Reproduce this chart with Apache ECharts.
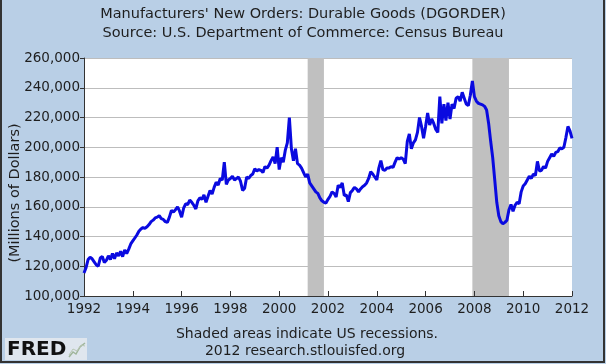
<!DOCTYPE html>
<html><head><meta charset="utf-8">
<script src="https://cdn.jsdelivr.net/npm/echarts/dist/echarts.min.js"></script>
<style>html,body{margin:0;padding:0;background:#b9cfe6}#c{width:606px;height:364px}</style>
</head><body><div id="c"></div>
<script>
// Monthly data, Jan 1992 .. Jan 2012 (millions of dollars)
const orders1990s = [
  115500,119000,124500,126000,125000,123000,121000,120000,125500,126500,122500,124000, // 1992
  127000,124500,128500,125000,129000,127000,130000,126500,131000,128500,131500,135000, // 1993
  137000,139000,141000,143500,145000,146000,145500,146500,148000,150000,151000,152500, // 1994
  153000,154000,152000,151500,150000,149500,153000,157500,156500,158000,160000,157000, // 1995
  153000,159000,162000,161500,164500,163000,161000,158500,164000,166000,165000,168000, // 1996
  163000,167000,171000,168500,173000,176500,174500,179000,178000,190000,175000,178000, // 1997
  179000,180500,178000,179000,180000,177000,171000,172500,180000,179000,181000,182000, // 1998
  185500,184000,185000,184500,183000,187000,186000,188000,191000,193500,189000,200000  // 1999
];
const orders2000s = [
  185000,193000,190000,198000,203000,220000,199000,191000,199000,189000,188000,186000, // 2000
  183000,180000,182000,176000,174000,172000,170000,169000,166000,164000,163000,162500, // 2001
  165000,167000,170000,169000,166500,174500,173000,176000,167500,168000,163500,169500, // 2002
  171000,173000,172000,170000,172000,173500,174500,176000,179000,183500,182000,180000, // 2003
  178000,186000,191000,185000,184500,186000,186000,187000,186500,190000,193000,192000, // 2004
  193000,192000,189000,204000,209000,199000,203000,205000,210000,220000,214000,206000, // 2005
  214000,223000,215000,219000,216000,212000,210000,234000,216000,229000,218000,230000, // 2006
  219000,229000,226000,233000,234000,231000,237000,233000,229000,228000,235000,244500, // 2007
  234000,231000,229500,229000,228500,227500,225000,216000,204000,193000,178000,163000, // 2008
  154000,150000,148500,149500,151000,158000,161500,157000,161000,163000,162000,170000  // 2009
];
const orders2010s = [
  174000,175500,178000,180500,179000,182000,181000,190500,184000,184500,187000,186000, // 2010
  190500,193000,195500,194000,196500,197000,199500,199000,200000,206500,214000,211000, // 2011
  206000                                                                                // 2012 Jan
];
const orders = orders1990s.concat(orders2000s, orders2010s);

const firstYear = 1992;
const months = [];
for (let i = 0; i < orders.length; i++) {
  const y = firstYear + Math.floor(i / 12);
  const m = (i % 12) + 1;
  months.push(y + '-' + (m < 10 ? '0' + m : '' + m));
}
const recessions = [['2001-03', '2001-11'], ['2007-12', '2009-06']];
const yMin = 100000, yMax = 260000, yStep = 20000;

const FONT = '"DejaVu Sans", Verdana, sans-serif';
const TXT = '#1e1e1e';
const chart = echarts.init(document.getElementById('c'), null, {renderer: 'canvas'});
chart.setOption({
  backgroundColor: '#b9cfe6',
  animation: false,
  grid: {left: 84, right: 34, top: 58, bottom: 68, show: true, backgroundColor: '#ffffff', borderWidth: 0},
  xAxis: {
    type: 'category', data: months, boundaryGap: false, z: 10,
    axisLine: {lineStyle: {color: '#333', width: 1}},
    axisTick: {inside: true, length: 5, interval: (i) => i % 24 === 0, lineStyle: {color: '#333'}},
    axisLabel: {interval: (i) => i % 24 === 0, formatter: (v) => v.slice(0, 4), color: TXT,
      fontFamily: FONT, fontSize: 13.5, margin: 6},
    splitLine: {show: false}
  },
  yAxis: {
    type: 'value', min: yMin, max: yMax, interval: yStep,
    axisLine: {show: true, lineStyle: {color: '#333', width: 1}},
    axisTick: {show: true, length: 4, lineStyle: {color: '#333'}},
    axisLabel: {formatter: (v) => v.toLocaleString('en-US'), color: TXT, fontFamily: FONT, fontSize: 13.5, margin: 4},
    splitLine: {lineStyle: {color: '#bdbdbd', width: 1}}
  },
  series: [
    {type: 'line', data: [], z: 1, silent: true,
     markArea: {silent: true, itemStyle: {color: '#c0c0c0', opacity: 1},
       data: recessions.map(r => [{xAxis: r[0]}, {xAxis: r[1]}])}},
    {type: 'line', data: orders, z: 3, symbol: 'none', smooth: false,
     lineStyle: {color: '#0a0ae0', width: 3}}
  ],
  graphic: [
    {type: 'text', left: 'center', top: 7, style: {text: "Manufacturers' New Orders: Durable Goods (DGORDER)", font: '14.5px ' + FONT, fill: TXT}},
    {type: 'text', left: 'center', top: 26, style: {text: 'Source: U.S. Department of Commerce: Census Bureau', font: '14.5px ' + FONT, fill: TXT}},
    {type: 'text', x: 15, y: 193, rotation: Math.PI / 2, style: {text: '(Millions of Dollars)', font: '14.5px ' + FONT, fill: TXT, align: 'center', verticalAlign: 'middle'}},
    {type: 'text', x: 307, y: 334, style: {text: 'Shaded areas indicate US recessions.', font: '14px ' + FONT, fill: TXT, align: 'center', verticalAlign: 'middle'}},
    {type: 'text', x: 305, y: 351, style: {text: '2012 research.stlouisfed.org', font: '14px ' + FONT, fill: TXT, align: 'center', verticalAlign: 'middle'}},
    {type: 'rect', shape: {x: 5, y: 338, width: 82, height: 22}, style: {fill: '#dfe6ee'}},
    {type: 'text', x: 7, y: 349.5, style: {text: 'FRED', font: 'bold 20px ' + FONT, fill: '#111', verticalAlign: 'middle'}},
    {type: 'polyline', shape: {points: [[69, 357], [73, 352], [76, 354], [80, 347], [85, 343]]}, style: {stroke: '#9fb59a', lineWidth: 1.5, fill: null}},
    {type: 'polyline', shape: {points: [[69, 355], [73, 349], [77, 351], [81, 345], [85, 346]]}, style: {stroke: '#b8c6b4', lineWidth: 1, fill: null}},
    {type: 'polyline', shape: {points: [[1, -5], [1, 362], [604, 362], [604, -5]]}, style: {stroke: '#333', lineWidth: 2, fill: null}}
  ]
});
</script></body></html>
